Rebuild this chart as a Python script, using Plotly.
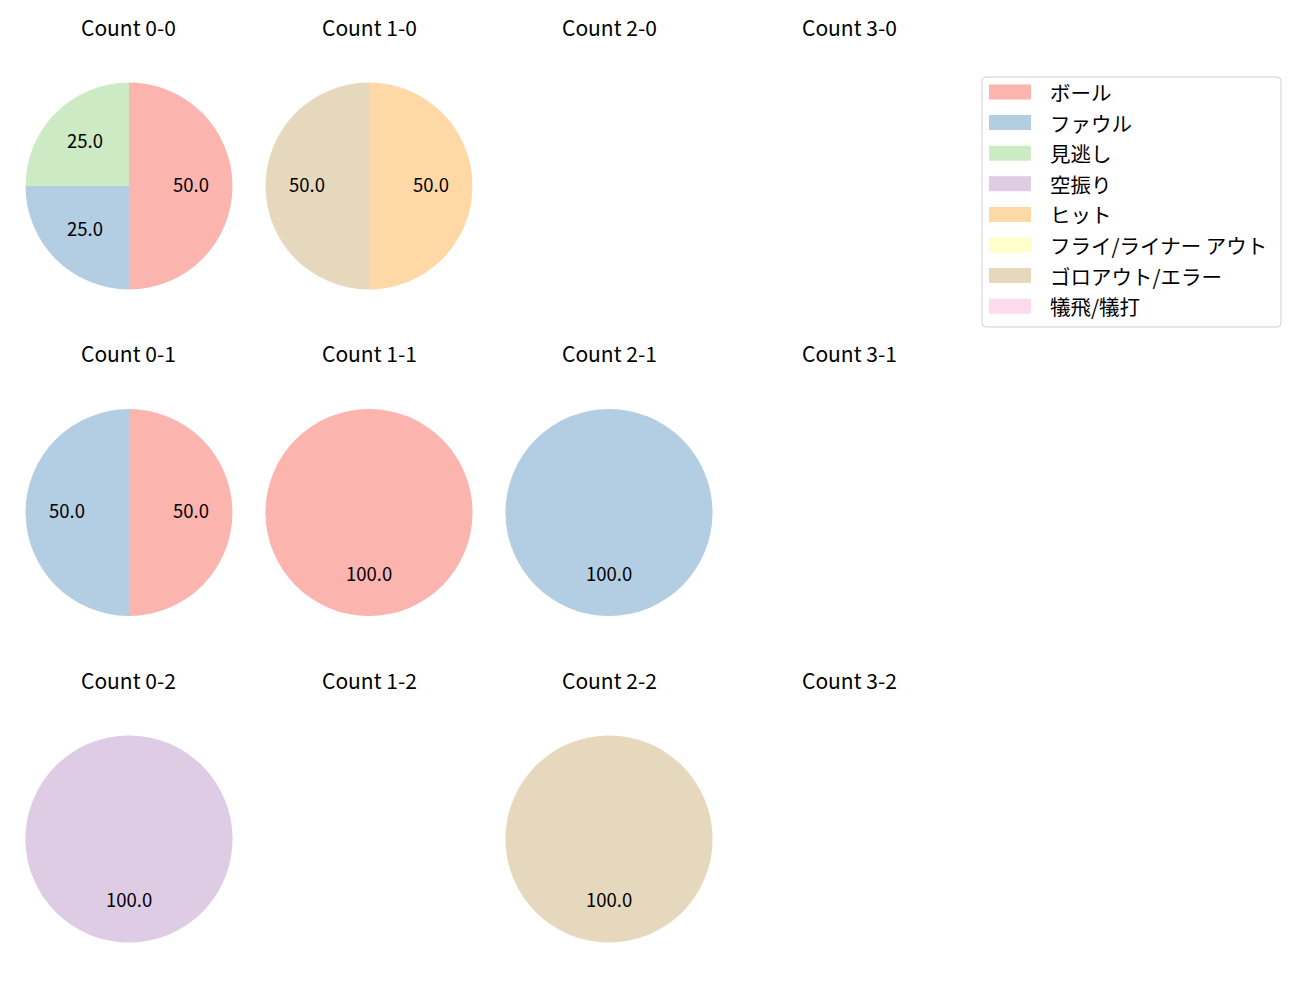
import math
import plotly.graph_objects as go

# ---- data ----
counts = ["0-0", "1-0", "2-0", "3-0",
          "0-1", "1-1", "2-1", "3-1",
          "0-2", "1-2", "2-2", "3-2"]
categories = ["ボール", "ファウル", "見逃し", "空振り", "ヒット",
              "フライ/ライナー アウト", "ゴロアウト/エラー", "犠飛/犠打"]
colors = ["#fbb4ae", "#b3cde3", "#ccebc5", "#decbe4", "#fed9a6",
          "#ffffcc", "#e5d8bd", "#fddaec"]

ball      = [2, 0, 0, 0, 1, 1, 0, 0, 0, 0, 0, 0]
foul      = [1, 0, 0, 0, 1, 0, 1, 0, 0, 0, 0, 0]
minogashi = [1, 0, 0, 0, 0, 0, 0, 0, 0, 0, 0, 0]
karaburi  = [0, 0, 0, 0, 0, 0, 0, 0, 1, 0, 0, 0]
hit       = [0, 1, 0, 0, 0, 0, 0, 0, 0, 0, 0, 0]
flyout    = [0, 0, 0, 0, 0, 0, 0, 0, 0, 0, 0, 0]
goro      = [0, 1, 0, 0, 0, 0, 0, 0, 0, 0, 1, 0]
gisei     = [0, 0, 0, 0, 0, 0, 0, 0, 0, 0, 0, 0]
series = [ball, foul, minogashi, karaburi, hit, flyout, goro, gisei]

# ---- layout ----
W, H = 1300, 1000
OFF = 8  # page body margin
FONT = "Noto Sans CJK JP"
col_x = [129, 369, 609, 849]
row_y = [186, 512.5, 839]
R = 103.5
title_dy = 159
TEXT_DY = -2


def px(x):
    return (x - OFF) / W


def py(y):
    return 1 - (y - OFF) / H


fig = go.Figure()
annotations = []
shapes = []

for k, name in enumerate(counts):
    r, c = divmod(k, 4)
    cx, cy = col_x[c], row_y[r]
    annotations.append(dict(x=px(cx), y=py(cy - title_dy), xref="paper", yref="paper",
                            text=f"Count {name}", showarrow=False, xanchor="center",
                            yanchor="middle", font=dict(size=21, family=FONT, color="#000")))
    vals = [s[k] for s in series]
    total = sum(vals)
    if total == 0:
        continue
    labs = [categories[i] for i in range(8) if vals[i] > 0]
    v = [vals[i] for i in range(8) if vals[i] > 0]
    cl = [colors[i] for i in range(8) if vals[i] > 0]
    fig.add_trace(go.Pie(labels=labs, values=v, sort=False, direction="clockwise",
                         rotation=0, marker=dict(colors=cl, line=dict(width=0)),
                         textinfo="none", showlegend=False,
                         domain=dict(x=[px(cx - R), px(cx + R)],
                                     y=[py(cy + R), py(cy - R)])))
    cum = 0
    for val in v:
        mid = math.radians(90 - 360 * (cum + val / 2) / total)
        cum += val
        tx = cx + 0.6 * R * math.cos(mid)
        ty = cy - 0.6 * R * math.sin(mid) + TEXT_DY
        annotations.append(dict(x=px(tx), y=py(ty), xref="paper", yref="paper",
                                text=f"{100 * val / total:.1f}", showarrow=False,
                                xanchor="center", yanchor="middle",
                                font=dict(size=18.5, family=FONT, color="#000")))

# ---- manual legend ----
lx0, ly0, lx1, ly1 = 982, 77, 1281, 327
rr = 4
X0, X1 = px(lx0), px(lx1)
Y0, Y1 = py(ly1), py(ly0)
dx, dy = rr / W, rr / H
path = (f"M{X0+dx},{Y1} L{X1-dx},{Y1} Q{X1},{Y1} {X1},{Y1-dy} "
        f"L{X1},{Y0+dy} Q{X1},{Y0} {X1-dx},{Y0} L{X0+dx},{Y0} Q{X0},{Y0} {X0},{Y0+dy} "
        f"L{X0},{Y1-dy} Q{X0},{Y1} {X0+dx},{Y1} Z")
shapes.append(dict(type="path", xref="paper", yref="paper", path=path,
                   line=dict(color="#d0d0d0", width=1), fillcolor="rgba(255,255,255,0.8)"))
for i, (lab, col) in enumerate(zip(categories, colors)):
    yc = 92 + i * 30.6
    shapes.append(dict(type="rect", xref="paper", yref="paper",
                       x0=px(989), x1=px(1031), y0=py(yc + 7.5), y1=py(yc - 7.5),
                       line=dict(width=0), fillcolor=col))
    annotations.append(dict(x=px(1048), y=py(yc), xref="paper", yref="paper",
                            text=lab, showarrow=False, xanchor="left", yanchor="middle",
                            font=dict(size=20.5, family=FONT, color="#000")))

fig.update_layout(width=W, height=H, margin=dict(l=0, r=0, t=0, b=0),
                  paper_bgcolor="white", plot_bgcolor="white",
                  annotations=annotations, shapes=shapes, showlegend=False)
fig.write_html("out.html")
